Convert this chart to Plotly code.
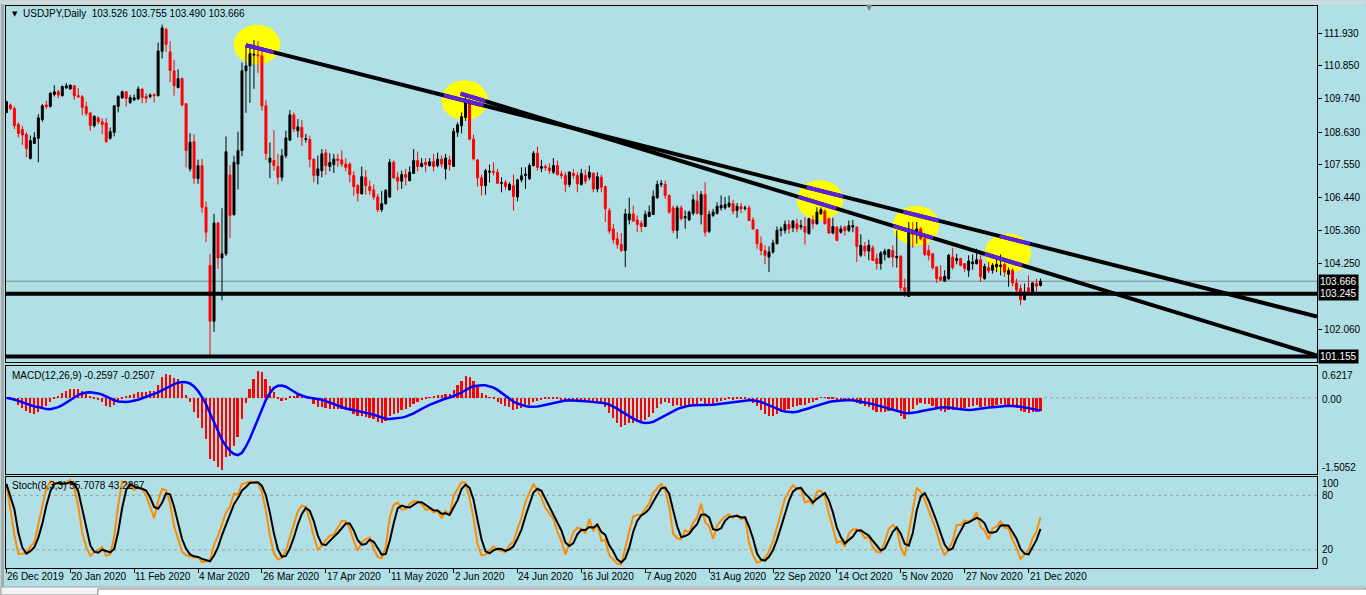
import numpy as np
import pandas as pd
import plotly.graph_objects as go
from plotly.subplots import make_subplots

# ---------------- data (USDJPY daily) ----------------
opens = [109.29,109.54,109.42,108.89,108.72,108.56,107.76,108.26,108.43,109.05,
 109.54,109.49,109.89,109.98,109.85,110.11,110.07,110.18,109.85,109.81,
 109.48,109.27,108.85,109.11,108.98,108.94,108.43,108.63,109.49,109.78,
 109.98,109.62,109.71,109.74,110.07,109.82,109.82,109.88,109.85,111.33,
 112.06,111.31,110.68,110.12,110.42,109.58,107.41,108.32,107.08,107.52,
 106.13,104.19,102.33,105.61,104.44,104.58,107.21,105.88,107.57,108.02,
 110.68,110.84,111.20,111.21,111.18,109.51,107.63,107.69,107.49,107.13,
 107.85,108.37,109.21,108.68,108.79,108.39,108.39,107.74,107.19,107.35,
 107.95,107.49,107.55,107.74,107.71,107.57,107.57,107.19,106.85,106.58,
 107.13,106.82,106.71,106.47,106.05,106.25,106.47,107.63,107.13,107.00,
 107.22,107.02,107.26,107.69,107.49,107.63,107.52,107.65,107.52,107.73,
 107.41,107.71,107.49,108.63,108.85,109.12,109.70,108.40,107.71,107.11,
 106.85,107.30,107.33,107.30,106.93,106.96,106.71,106.85,106.47,107.04,
 107.19,107.08,107.52,107.93,107.43,107.49,107.44,107.30,107.52,107.24,
 107.19,106.89,107.26,107.19,106.89,107.19,107.13,107.26,106.74,107.13,
 106.82,106.02,105.41,105.08,104.89,104.69,105.71,105.91,105.71,105.60,
 105.49,105.82,105.89,106.45,106.89,106.89,106.52,106.11,105.36,106.11,
 105.78,105.71,105.93,106.34,105.89,106.56,105.33,105.86,105.93,106.11,
 106.11,106.16,106.25,106.02,106.16,106.09,106.11,105.71,105.38,104.92,
 104.69,104.47,104.64,104.92,105.36,105.36,105.56,105.45,105.58,105.47,
 105.49,105.25,105.71,105.58,105.91,106.00,105.75,105.27,105.47,105.30,
 105.47,105.36,105.47,105.47,104.53,104.83,104.67,104.78,104.42,104.25,
 104.56,104.47,104.69,104.45,104.50,103.45,103.16,105.36,105.27,105.41,
 105.08,104.69,104.58,104.14,103.81,103.67,103.75,104.47,104.36,104.42,
 104.25,104.03,104.25,104.25,104.38,103.75,104.12,104.03,104.14,104.16,
 104.23,103.90,104.03,103.61,103.42,103.05,103.45,103.27,103.59,103.526]

highs = [109.68,109.59,109.49,108.96,108.85,108.63,108.52,108.63,109.24,109.57,
 109.68,109.96,110.20,110.05,110.18,110.27,110.22,110.20,110.11,109.87,
 109.65,109.31,109.20,109.16,109.09,109.09,108.79,109.54,109.87,110.02,
 110.00,109.87,109.89,110.16,110.09,109.93,109.93,109.93,111.62,112.22,
 112.11,111.67,111.04,110.73,110.46,109.60,108.60,108.56,107.72,107.74,
 106.32,104.58,105.91,105.63,106.10,108.49,107.54,107.85,108.65,110.95,
 111.54,111.57,111.71,111.67,111.34,109.70,108.29,108.70,107.91,108.07,
 108.68,109.37,109.29,109.07,109.04,108.57,108.52,107.74,107.85,108.07,
 108.07,107.93,107.91,107.91,108.02,107.77,107.63,107.33,106.91,107.49,
 107.37,107.02,106.89,106.58,106.67,106.74,107.74,107.69,107.30,107.35,
 107.41,107.49,108.07,107.99,107.77,107.77,107.77,107.91,107.95,107.85,
 107.91,107.85,108.77,108.96,109.29,109.90,109.73,108.55,107.74,107.22,
 107.41,107.55,107.63,107.41,107.13,107.04,106.96,107.22,107.08,107.46,
 107.46,107.60,108.00,108.15,107.71,107.55,107.60,107.77,107.69,107.35,
 107.30,107.33,107.41,107.30,107.41,107.38,107.52,107.30,107.30,107.22,
 106.85,106.11,105.58,105.30,105.27,106.08,106.45,106.19,105.86,105.69,
 106.02,106.19,106.69,107.02,107.04,107.02,106.56,106.19,106.19,106.19,
 106.02,106.02,106.56,106.67,106.67,106.97,106.02,106.08,106.30,106.52,
 106.47,106.52,106.38,106.27,106.27,106.19,106.19,105.80,105.41,105.16,
 104.86,104.83,105.05,105.49,105.49,105.69,105.71,105.71,105.75,105.71,
 105.80,105.78,105.86,106.13,106.13,106.05,105.78,105.78,105.49,105.52,
 105.52,105.69,105.71,105.49,105.23,104.97,105.05,104.86,104.58,104.67,
 104.75,104.72,104.86,105.36,104.53,103.75,105.64,105.64,105.64,105.47,
 105.23,104.86,104.61,104.16,104.20,104.03,104.58,104.78,104.58,104.45,
 104.27,104.53,104.56,104.75,104.53,104.25,104.31,104.27,104.42,104.56,
 104.27,104.12,104.09,103.75,103.56,103.59,103.86,103.64,103.75,103.755]

lows = [109.27,109.37,108.74,108.46,108.21,107.80,107.72,108.24,107.63,108.98,
 109.40,109.46,109.82,109.76,109.82,110.07,110.05,109.71,109.78,109.20,
 109.18,108.68,108.79,108.90,108.57,108.27,108.38,108.49,109.29,109.74,
 109.49,109.57,109.67,109.71,109.60,109.60,109.76,109.62,109.82,111.09,
 111.31,110.29,109.85,110.09,109.49,107.46,107.32,106.91,106.91,105.95,
 104.97,101.15,101.98,104.08,103.03,104.51,105.10,105.86,106.72,107.83,
 109.28,109.61,110.08,110.61,109.35,107.71,107.10,107.35,106.89,107.00,
 107.77,108.33,108.63,108.46,108.18,108.29,107.46,106.96,106.89,107.13,
 107.22,107.33,107.27,107.48,107.48,107.33,106.96,106.52,106.33,106.55,
 106.55,106.55,106.38,105.97,105.97,106.22,106.44,107.08,106.69,106.74,
 106.85,106.99,107.24,107.33,107.46,107.30,107.49,107.33,107.46,107.46,
 107.06,107.35,107.49,108.48,108.59,109.01,108.37,107.69,106.82,106.52,
 106.55,106.96,107.19,106.91,106.63,106.71,106.69,106.02,106.33,106.96,
 106.74,107.04,107.49,107.35,107.30,107.35,107.24,107.24,107.19,107.08,
 106.63,106.80,107.08,106.63,106.85,106.91,107.04,106.63,106.63,106.63,
 105.64,105.25,104.92,104.75,104.64,104.14,105.56,105.64,105.30,105.30,
 105.47,105.82,105.89,106.41,106.80,106.41,105.91,105.27,105.08,105.69,
 105.41,105.67,105.86,105.89,105.56,105.16,105.27,105.80,105.89,106.02,
 106.05,106.11,105.89,105.78,105.93,106.02,105.67,105.38,104.75,104.53,
 104.23,103.97,104.58,104.89,105.16,105.25,105.25,105.30,105.30,105.38,
 104.89,105.23,105.41,105.56,105.89,105.56,105.25,105.23,105.00,105.25,
 105.19,105.30,105.30,104.31,104.47,104.50,104.36,104.34,104.05,104.05,
 104.36,104.45,104.14,104.12,103.34,103.14,103.14,104.78,104.92,105.03,
 104.50,104.36,104.05,103.61,103.67,103.64,103.70,104.05,104.23,104.16,
 103.97,103.81,104.05,104.23,103.64,103.72,103.94,103.92,103.97,103.86,
 103.81,103.48,103.50,103.28,102.87,103.03,103.23,103.25,103.31,103.490]

closes = [109.65,109.42,108.85,108.59,108.54,108.09,108.35,108.45,109.11,109.51,
 109.49,109.93,109.98,109.87,110.16,110.18,110.20,109.85,109.81,109.46,
 109.26,108.85,109.16,108.98,108.89,108.32,108.65,109.51,109.82,109.98,
 109.76,109.78,109.78,110.07,109.79,109.76,109.87,109.85,111.34,112.11,
 111.56,110.69,110.18,110.42,109.54,108.02,108.30,107.10,107.52,106.13,
 105.30,102.33,105.61,104.44,104.58,107.98,105.86,107.63,108.02,110.68,
 110.84,111.25,111.23,111.18,109.51,107.92,107.77,107.52,107.13,107.85,
 108.44,109.21,108.74,108.81,108.46,108.42,107.73,107.19,107.41,107.91,
 107.52,107.62,107.74,107.69,107.57,107.46,107.22,106.82,106.60,107.15,
 106.85,106.69,106.47,106.05,106.25,106.69,107.63,107.11,107.00,107.22,
 107.13,107.30,107.69,107.49,107.59,107.55,107.65,107.49,107.73,107.57,
 107.77,107.55,108.66,108.88,109.15,109.70,108.40,107.74,107.11,106.85,
 107.35,107.33,107.30,106.93,106.95,106.82,106.89,106.49,107.04,107.18,
 107.24,107.52,107.93,107.46,107.49,107.45,107.35,107.52,107.22,107.19,
 106.89,107.30,107.19,106.91,107.26,107.00,107.30,106.74,107.15,106.80,
 106.08,105.34,105.05,104.89,104.69,105.91,105.91,105.67,105.56,105.49,
 105.89,105.97,106.49,106.89,106.93,106.52,105.97,105.36,106.11,105.75,
 105.82,105.97,106.38,105.93,106.56,105.30,105.89,105.97,106.16,106.19,
 106.22,106.27,106.00,106.16,106.08,106.11,105.69,105.41,104.92,104.69,
 104.53,104.64,104.94,105.36,105.41,105.56,105.41,105.67,105.41,105.52,
 105.30,105.75,105.58,105.97,106.05,105.58,105.27,105.49,105.03,105.41,
 105.36,105.52,105.52,104.83,104.86,104.67,104.86,104.36,104.25,104.61,
 104.67,104.72,104.47,104.49,103.45,103.34,105.41,105.23,105.41,105.08,
 104.56,104.53,104.12,103.75,103.70,103.83,104.53,104.12,104.42,104.20,
 104.09,104.34,104.31,104.38,103.81,104.16,104.01,104.20,104.23,104.20,
 103.97,104.03,103.61,103.37,103.05,103.31,103.25,103.61,103.50,103.666]

date_tick_bars = [0, 16, 32, 48, 64, 80, 96, 112, 128, 144, 160, 176, 192, 208, 224, 240, 256]
date_tick_labels = ["26 Dec 2019", "20 Jan 2020", "11 Feb 2020", "4 Mar 2020", "26 Mar 2020",
                    "17 Apr 2020", "11 May 2020", "2 Jun 2020", "24 Jun 2020", "16 Jul 2020",
                    "7 Aug 2020", "31 Aug 2020", "22 Sep 2020", "14 Oct 2020", "5 Nov 2020",
                    "27 Nov 2020", "21 Dec 2020"]

price_ticks = [111.930, 110.850, 109.740, 108.630, 107.550, 106.440, 105.360, 104.250, 102.060]
price_range = [100.962, 112.838]
macd_range = [-1.5052, 0.6217]
x_range = [-0.1, 328.25]

# drawn objects (bar index, price)
line_a = [(60.0, 111.53), (328.25, 102.49)]
line_b = [(113.75, 109.92), (328.25, 101.19)]
level_lines = [103.245, 101.155]
bid_price = 103.666
circle_centers = [(62.75, 111.55), (114.75, 109.70), (203.75, 106.37), (227.8, 105.52), (250.8, 104.60)]
circle_rx, circle_ry = 5.8, 0.66
purple_on_a = [(60.0, 67.0), (109.5, 119.5), (200.4, 209.6), (224.6, 233.6), (248.75, 256.4)]
purple_on_b = [(113.75, 120.0), (198.3, 207.9), (222.1, 232.1), (245.0, 254.4)]

# ---------------- indicators ----------------
idx = list(range(len(closes)))
c = pd.Series(closes)
h = pd.Series(highs)
l = pd.Series(lows)
macd_main = c.ewm(span=12, adjust=False).mean() - c.ewm(span=26, adjust=False).mean()
macd_signal = macd_main.rolling(9, min_periods=1).mean()
ll = l.rolling(8, min_periods=1).min()
hh = h.rolling(8, min_periods=1).max()
stoch_k = 100 * (c - ll).rolling(3, min_periods=1).sum() / (hh - ll).rolling(3, min_periods=1).sum()
stoch_d = stoch_k.rolling(3, min_periods=1).mean()

# ---------------- figure ----------------
BG = "#B0E0E6"
FONT = "Liberation Sans"
fig = make_subplots(rows=3, cols=1, shared_xaxes=True)

fig.add_trace(go.Candlestick(
    x=idx, open=opens, high=highs, low=lows, close=closes,
    increasing=dict(line=dict(color="black", width=1), fillcolor="black"),
    decreasing=dict(line=dict(color="#FF0000", width=1), fillcolor="#FF0000"),
    whiskerwidth=0, showlegend=False, hoverinfo="skip"), row=1, col=1)

fig.add_trace(go.Bar(x=idx, y=macd_main, marker=dict(color="#FF0000", line=dict(width=0)),
                     width=0.5, showlegend=False, hoverinfo="skip"), row=2, col=1)
fig.add_trace(go.Scatter(x=idx, y=macd_signal, mode="lines", line=dict(color="#0000FF", width=2.5),
                         showlegend=False, hoverinfo="skip"), row=2, col=1)

fig.add_trace(go.Scatter(x=idx, y=stoch_k, mode="lines", line=dict(color="#FF8C00", width=2),
                         showlegend=False, hoverinfo="skip"), row=3, col=1)
fig.add_trace(go.Scatter(x=idx, y=stoch_d, mode="lines", line=dict(color="black", width=2),
                         showlegend=False, hoverinfo="skip"), row=3, col=1)

W, H = 1366, 595
ML, MR, MT, MB = 5, 48, 5, 27
PH = H - MT - MB  # plot height
PW = W - ML - MR


def py(ypix):
    return (H - MB - ypix) / PH


def px(xpix):
    return (xpix - ML) / PW


fig.update_layout(
    width=W, height=H, margin=dict(l=ML, r=MR, t=MT, b=MB),
    paper_bgcolor=BG, plot_bgcolor=BG, bargap=0,
    font=dict(family=FONT, size=10, color="black"),
    showlegend=False,
)
fig.update_xaxes(range=x_range, showgrid=False, zeroline=False, showline=True, mirror=True,
                 linecolor="black", linewidth=1, rangeslider_visible=False, showticklabels=False,
                 ticks="")
fig.update_xaxes(ticks="outside", tickvals=date_tick_bars, ticklen=4, tickcolor="black", row=3, col=1)
fig.update_yaxes(showgrid=False, zeroline=False, showline=True, mirror=True, linecolor="black",
                 linewidth=1, side="right")

fig.layout.yaxis.domain = [py(362), 1.0]
fig.layout.yaxis2.domain = [py(474), py(366)]
fig.layout.yaxis3.domain = [0.0, py(477)]
fig.update_yaxes(range=price_range, tickvals=price_ticks, ticktext=[f"{v:.3f}" for v in price_ticks],
                 ticks="outside", ticklen=4, tickcolor="black", tickfont=dict(size=10, family=FONT),
                 row=1, col=1)
fig.update_yaxes(range=macd_range, showticklabels=False, ticks="", row=2, col=1)
fig.update_yaxes(range=[0, 100], showticklabels=False, ticks="", row=3, col=1)

shapes = []
# yellow highlight circles
for cx, cy in circle_centers:
    shapes.append(dict(type="circle", xref="x", yref="y", x0=cx - circle_rx, x1=cx + circle_rx,
                       y0=cy - circle_ry, y1=cy + circle_ry, fillcolor="#FFFF00",
                       line=dict(width=0), layer="below"))
# bid line
shapes.append(dict(type="line", xref="paper", yref="y", x0=0, x1=1, y0=bid_price, y1=bid_price,
                   line=dict(color="#7A8A94", width=1), layer="below"))
# horizontal levels
for lv in level_lines:
    shapes.append(dict(type="line", xref="paper", yref="y", x0=0, x1=1, y0=lv, y1=lv,
                       line=dict(color="black", width=4)))
# trend lines
for (x0, y0), (x1, y1) in (line_a, line_b):
    shapes.append(dict(type="line", xref="x", yref="y", x0=x0, y0=y0, x1=x1, y1=y1,
                       line=dict(color="black", width=4)))


def on_line(line, xv):
    (x0, y0), (x1, y1) = line
    return y0 + (y1 - y0) * (xv - x0) / (x1 - x0)


for line, segs in ((line_a, purple_on_a), (line_b, purple_on_b)):
    for s0, s1 in segs:
        shapes.append(dict(type="line", xref="x", yref="y", x0=s0, x1=s1,
                           y0=on_line(line, s0), y1=on_line(line, s1),
                           line=dict(color="#5A22E0", width=4)))
# indicator level lines
shapes.append(dict(type="line", xref="paper", yref="y2", x0=0, x1=1, y0=0, y1=0,
                   line=dict(color="#A0A0A0", width=1, dash="dot"), layer="below"))
for lv in (80, 20):
    shapes.append(dict(type="line", xref="paper", yref="y3", x0=0, x1=1, y0=lv, y1=lv,
                       line=dict(color="#A0A0A0", width=1, dash="dot"), layer="below"))
# window frame (left edge and top edge)
shapes.append(dict(type="rect", xref="paper", yref="paper", x0=px(0), x1=px(3), y0=py(H),
                   y1=py(0), fillcolor="#A8A8A8", line=dict(width=0)))
shapes.append(dict(type="rect", xref="paper", yref="paper", x0=px(0), x1=px(W), y0=py(3),
                   y1=py(0), fillcolor="#D8D8D8", line=dict(width=0)))
# bottom tab strip
shapes.append(dict(type="rect", xref="paper", yref="paper", x0=px(0), x1=px(W), y0=py(H),
                   y1=py(587), fillcolor="#F4F4F4", line=dict(color="#A0A0A0", width=1)))
shapes.append(dict(type="rect", xref="paper", yref="paper", x0=px(97), x1=px(W + 2), y0=py(H + 2),
                   y1=py(589), fillcolor="white", line=dict(color="#808080", width=1)))
fig.update_layout(shapes=shapes)

ann = []
# date labels
for b, t in zip(date_tick_bars, date_tick_labels):
    ann.append(dict(x=b, y=py(577), xref="x3", yref="paper", text=t, showarrow=False,
                    xanchor="left", yanchor="middle", xshift=-1, font=dict(size=10, family=FONT)))
# titles
ann.append(dict(x=px(9), y=py(13), xref="paper", yref="paper", text="▼", showarrow=False,
                xanchor="left", yanchor="middle", font=dict(size=7, family="DejaVu Sans")))
ann.append(dict(x=px(864), y=py(7), xref="paper", yref="paper", text="▼", showarrow=False,
                xanchor="left", yanchor="middle", font=dict(size=8, family="DejaVu Sans", color="#808080")))
ann.append(dict(x=px(20), y=py(13), xref="paper", yref="paper",
                text="USDJPY,Daily  103.526 103.755 103.490 103.666", showarrow=False,
                xanchor="left", yanchor="middle", font=dict(size=10, family=FONT)))
ann.append(dict(x=px(9), y=py(375), xref="paper", yref="paper",
                text="MACD(12,26,9) -0.2597 -0.2507", showarrow=False,
                xanchor="left", yanchor="middle", font=dict(size=10, family=FONT)))
ann.append(dict(x=px(9), y=py(485), xref="paper", yref="paper",
                text="Stoch(8,3,3) 55.7078 43.2267", showarrow=False,
                xanchor="left", yanchor="middle", font=dict(size=10, family=FONT)))
# right side indicator labels
for txt, ypix in (("0.6217", 375), ("0.00", 399), ("-1.5052", 467),
                  ("100", 483), ("80", 495.5), ("20", 549), ("0", 561)):
    ann.append(dict(x=1, y=py(ypix), xref="paper", yref="paper", text=txt, showarrow=False,
                    xanchor="left", yanchor="middle", xshift=3, font=dict(size=10, family=FONT)))
# black price boxes
for val in (bid_price, level_lines[0], level_lines[1]):
    ann.append(dict(x=1, y=val, xref="paper", yref="y", text=f"{val:.3f}", showarrow=False,
                    xanchor="left", yanchor="middle", xshift=1, bgcolor="black", borderpad=1,
                    font=dict(size=10, family=FONT, color="white")))
fig.update_layout(annotations=ann)

fig.write_html("out.html", config={"displayModeBar": False},
               post_script="document.body.style.margin='0px';document.body.style.overflow='hidden';")
